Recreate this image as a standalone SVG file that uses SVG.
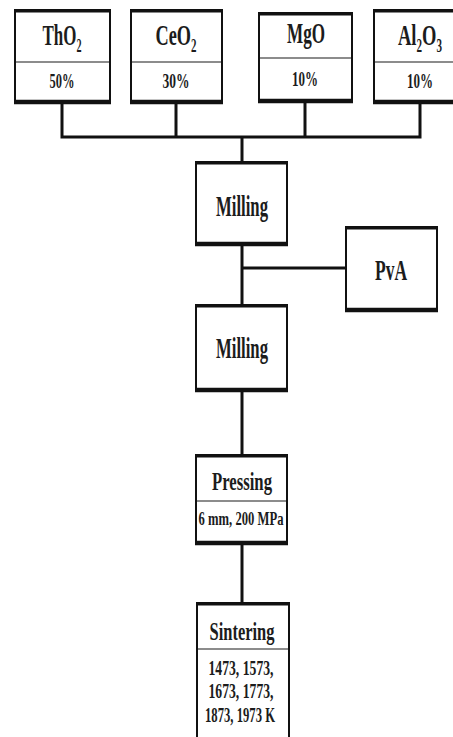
<svg xmlns="http://www.w3.org/2000/svg" width="453" height="737" viewBox="0 0 453 737">
  <style>
    .box { fill: #fff; stroke: #111; stroke-width: 2; }
    .rim { stroke: #111; stroke-width: 3; }
    .base { stroke: #111; stroke-width: 4.5; }
    .div { stroke: #666; stroke-width: 1.6; }
    .edge { stroke: #111; stroke-width: 3; fill: none; }
    text { font-family: "Liberation Serif", "Times New Roman", serif; font-weight: bold; fill: #1c1c1c; text-anchor: middle; }
    .h { font-size: 30px; }
    .h2 { font-size: 26px; }
    .p { font-size: 21px; }
    .s { font-size: 18px; }
    .n { font-size: 21px; }
    .sub { font-size: 18px; }
  </style>

  <rect width="453" height="737" fill="#fff"/>

  <!-- connectors -->
  <g id="connectors">
    <polyline class="edge" points="62,103 62,137 420,137 420,103"/>
    <line class="edge" x1="176" y1="103" x2="176" y2="137"/>
    <line class="edge" x1="305" y1="102" x2="305" y2="137"/>
    <line class="edge" x1="242" y1="137" x2="242" y2="162"/>
    <line class="edge" x1="242" y1="246" x2="242" y2="305"/>
    <line class="edge" x1="242" y1="268" x2="346" y2="268"/>
    <line class="edge" x1="242" y1="392" x2="242" y2="455"/>
    <line class="edge" x1="242" y1="545" x2="242" y2="603"/>
  </g>

  <!-- raw oxides -->
  <g id="tho2">
    <rect class="box" x="15" y="10" width="95" height="93"/>
    <line class="rim" x1="14" y1="11" x2="111" y2="11"/>
    <line class="base" x1="14" y1="102" x2="111" y2="102"/>
    <line class="div" x1="16" y1="62" x2="109" y2="62"/>
    <text class="h" transform="translate(62 45) scale(0.565 1)">ThO<tspan class="sub" dy="7">2</tspan></text>
    <text class="p" x="62" y="88" textLength="25" lengthAdjust="spacingAndGlyphs">50%</text>
  </g>

  <g id="ceo2">
    <rect class="box" x="131" y="10" width="91" height="93"/>
    <line class="rim" x1="130" y1="11" x2="223" y2="11"/>
    <line class="base" x1="130" y1="102" x2="223" y2="102"/>
    <line class="div" x1="132" y1="62" x2="221" y2="62"/>
    <text class="h" transform="translate(176 45) scale(0.61 1)">CeO<tspan class="sub" dy="7">2</tspan></text>
    <text class="p" x="176" y="88" textLength="27" lengthAdjust="spacingAndGlyphs">30%</text>
  </g>

  <g id="mgo">
    <rect class="box" x="259" y="13" width="93" height="89"/>
    <line class="rim" x1="258" y1="14" x2="353" y2="14"/>
    <line class="base" x1="258" y1="101" x2="353" y2="101"/>
    <line class="div" x1="260" y1="58" x2="351" y2="58"/>
    <text class="h" x="306" y="43" textLength="38" lengthAdjust="spacingAndGlyphs">MgO</text>
    <text class="p" x="305" y="86" textLength="26" lengthAdjust="spacingAndGlyphs">10%</text>
  </g>

  <g id="al2o3">
    <rect class="box" x="374" y="10" width="92" height="93"/>
    <line class="rim" x1="373" y1="11" x2="467" y2="11"/>
    <line class="base" x1="373" y1="102" x2="467" y2="102"/>
    <line class="div" x1="375" y1="62" x2="465" y2="62"/>
    <text class="h" transform="translate(420 45) scale(0.617 1)">Al<tspan class="sub" dy="7">2</tspan><tspan dy="-7">O</tspan><tspan class="sub" dy="7">3</tspan></text>
    <text class="p" x="420" y="88" textLength="26" lengthAdjust="spacingAndGlyphs">10%</text>
  </g>

  <!-- process steps -->
  <g id="milling1">
    <rect class="box" x="196" y="162" width="91" height="83"/>
    <line class="rim" x1="195" y1="163" x2="288" y2="163"/>
    <line class="base" x1="195" y1="244" x2="288" y2="244"/>
    <text class="h" x="242" y="216" textLength="52" lengthAdjust="spacingAndGlyphs">Milling</text>
  </g>

  <g id="pva">
    <rect class="box" x="346" y="227" width="91" height="84"/>
    <line class="rim" x1="345" y1="228" x2="438" y2="228"/>
    <line class="base" x1="345" y1="310" x2="438" y2="310"/>
    <text class="h" x="391" y="280" textLength="32" lengthAdjust="spacingAndGlyphs">PvA</text>
  </g>

  <g id="milling2">
    <rect class="box" x="196" y="305" width="91" height="85"/>
    <line class="rim" x1="195" y1="306" x2="288" y2="306"/>
    <line class="base" x1="195" y1="390" x2="288" y2="390"/>
    <text class="h" x="242" y="358" textLength="52" lengthAdjust="spacingAndGlyphs">Milling</text>
  </g>

  <g id="pressing">
    <rect class="box" x="196" y="455" width="91" height="88"/>
    <line class="rim" x1="195" y1="456" x2="288" y2="456"/>
    <line class="base" x1="195" y1="543" x2="288" y2="543"/>
    <line class="div" x1="197" y1="501" x2="286" y2="501"/>
    <text class="h2" x="242" y="490" textLength="60" lengthAdjust="spacingAndGlyphs">Pressing</text>
    <text class="s" x="241" y="525" textLength="85" lengthAdjust="spacingAndGlyphs">6 mm, 200 MPa</text>
  </g>

  <g id="sintering">
    <rect class="box" x="197" y="603" width="92" height="140"/>
    <line class="rim" x1="196" y1="604" x2="290" y2="604"/>
    <line class="div" x1="198" y1="649" x2="288" y2="649"/>
    <text class="h2" x="242" y="640" textLength="65" lengthAdjust="spacingAndGlyphs">Sintering</text>
    <text class="n" x="241" y="675" textLength="65" lengthAdjust="spacingAndGlyphs">1473, 1573,</text>
    <text class="n" x="241" y="698" textLength="65" lengthAdjust="spacingAndGlyphs">1673, 1773,</text>
    <text class="n" x="240" y="722" textLength="70" lengthAdjust="spacingAndGlyphs">1873, 1973 K</text>
  </g>
</svg>
